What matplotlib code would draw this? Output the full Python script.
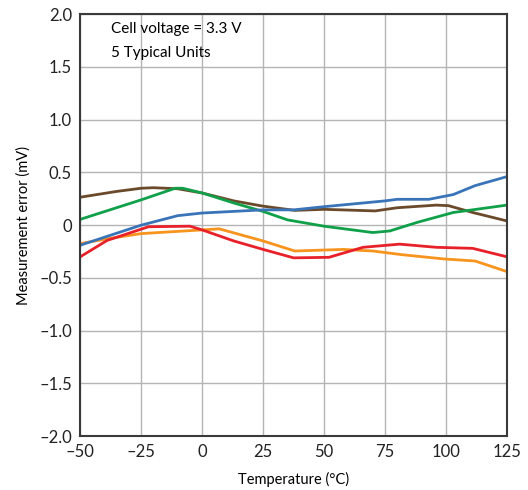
import matplotlib.pyplot as plt

# Temperature (°C) / measurement error (mV) for each of the 5 units
blue_t = [-50, -25, -10, 0, 25, 37.5, 50, 75, 80, 93, 103, 112, 125]
blue_v = [-0.19, 0.0, 0.09, 0.115, 0.145, 0.145, 0.175, 0.23, 0.245, 0.245, 0.29, 0.375, 0.46]

brown_t = [-50, -35, -25, -20, -10, 0, 13, 25, 38, 50, 71, 80, 96, 101, 111, 125]
brown_v = [0.265, 0.32, 0.35, 0.355, 0.345, 0.305, 0.23, 0.18, 0.14, 0.15, 0.135, 0.165, 0.19, 0.185, 0.12, 0.04]

green_t = [-50, -25, -11, -8, 0, 13, 25, 35, 50, 70, 77, 88, 103, 125]
green_v = [0.055, 0.24, 0.35, 0.35, 0.305, 0.21, 0.13, 0.05, -0.01, -0.07, -0.055, 0.025, 0.12, 0.19]

red_t = [-50, -39, -22, -5, 0, 13, 25, 37.5, 52, 66, 81, 96, 111, 125]
red_v = [-0.30, -0.145, -0.015, -0.01, -0.045, -0.15, -0.23, -0.31, -0.305, -0.21, -0.18, -0.21, -0.22, -0.30]

orange_t = [-50, -39, -25, 0, 7, 25, 38, 58, 70, 82, 99, 112, 125]
orange_v = [-0.175, -0.13, -0.08, -0.045, -0.035, -0.15, -0.245, -0.23, -0.245, -0.28, -0.32, -0.34, -0.44]

X_TICKS = [-50, -25, 0, 25, 50, 75, 100, 125]
Y_TICKS = [-2.0, -1.5, -1.0, -0.5, 0, 0.5, 1.0, 1.5, 2.0]

plt.rcParams.update({
    "font.family": "sans-serif",
    "font.sans-serif": ["Lato", "DejaVu Sans"],
})

fig = plt.figure(figsize=(5.28, 4.9), dpi=100)
ax = fig.add_axes([0.152, 0.110, 0.808, 0.861])

series = [
    (brown_t, brown_v, "#6b4a2b"),
    (green_t, green_v, "#10a04a"),
    (orange_t, orange_v, "#f7941d"),
    (red_t, red_v, "#e8202a"),
    (blue_t, blue_v, "#3a74b8"),
]
for t, v, c in series:
    ax.plot(t, v, color=c, linewidth=2.0, solid_joinstyle="round")

ax.set_xlim(-50, 125)
ax.set_ylim(-2.0, 2.0)
ax.set_xticks(X_TICKS)
ax.set_xticklabels([f"{x}".replace("-", "\u2013") for x in X_TICKS])
ax.set_yticks(Y_TICKS)
ax.set_yticklabels(["0" if y == 0 else f"{y:.1f}".replace("-", "\u2013") for y in Y_TICKS])
ax.tick_params(length=0, labelsize=12, colors="#222222", pad=6)
ax.grid(True, color="#b4b4b4", linewidth=1.0)
ax.set_axisbelow(True)
for s in ax.spines.values():
    s.set_color("#3a3a3a")
    s.set_linewidth(1.5)

ax.set_xlabel("Temperature (°C)", fontsize=10.5, labelpad=8)
ax.set_ylabel("Measurement error (mV)", fontsize=10.5, labelpad=6)

ax.text(-37.5, 1.86, "Cell voltage = 3.3 V", fontsize=11, va="center")
ax.text(-37.5, 1.63, "5 Typical Units", fontsize=11, va="center")

fig.savefig("out.png", dpi=100)
